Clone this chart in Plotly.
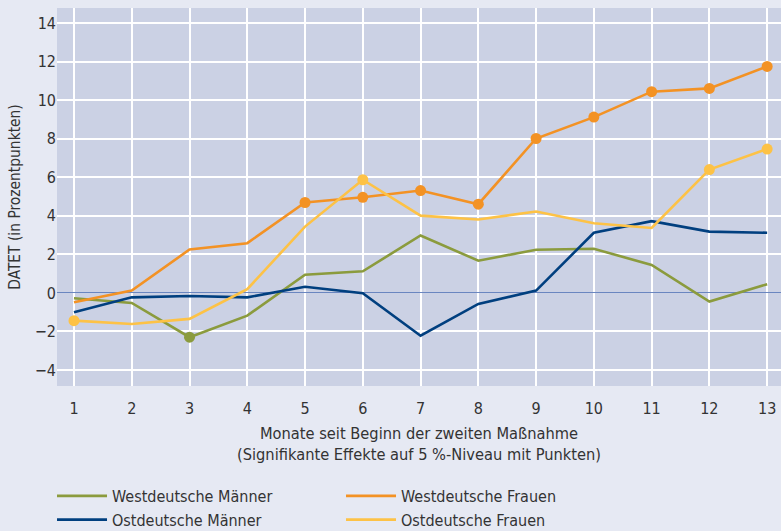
import plotly.graph_objects as go

months = list(range(1, 14))
west_maenner = [-0.28, -0.52, -2.3, -1.18, 0.94, 1.12, 2.98, 1.67, 2.24, 2.29, 1.45, -0.45, 0.45]
ost_maenner = [-1.0, -0.23, -0.16, -0.23, 0.32, -0.02, -2.22, -0.57, 0.12, 3.12, 3.72, 3.18, 3.12]
west_frauen = [-0.49, 0.12, 2.25, 2.58, 4.69, 4.96, 5.31, 4.6, 8.01, 9.12, 10.44, 10.61, 11.75]
ost_frauen = [-1.44, -1.61, -1.35, 0.19, 3.44, 5.87, 4.01, 3.81, 4.22, 3.61, 3.37, 6.4, 7.46]

# significance flags (dots shown)
sig_wm = [0, 0, 1, 0, 0, 0, 0, 0, 0, 0, 0, 0, 0]
sig_om = [0] * 13
sig_wf = [0, 0, 0, 0, 1, 1, 1, 1, 1, 1, 1, 1, 1]
sig_of = [1, 0, 0, 0, 0, 1, 0, 0, 0, 0, 0, 1, 1]

y_ticks = [-4, -2, 0, 2, 4, 6, 8, 10, 12, 14]

series = [
    ("Westdeutsche Männer", west_maenner, sig_wm, "#8b9b3d"),
    ("Westdeutsche Frauen", west_frauen, sig_wf, "#f39224"),
    ("Ostdeutsche Männer", ost_maenner, sig_om, "#003f7f"),
    ("Ostdeutsche Frauen", ost_frauen, sig_of, "#fdc246"),
]

FONT = "DejaVu Sans Condensed, Roboto Condensed, Open Sans, sans-serif"
fig = go.Figure()

for name, vals, sig, col in series:
    fig.add_trace(go.Scatter(
        x=months, y=vals, mode="lines", name=name,
        line=dict(color=col, width=2.6), showlegend=True,
    ))
    xs = [m for m, s in zip(months, sig) if s]
    ys = [v for v, s in zip(vals, sig) if s]
    if xs:
        fig.add_trace(go.Scatter(
            x=xs, y=ys, mode="markers", showlegend=False,
            marker=dict(color=col, size=11), hoverinfo="skip",
        ))

fig.update_layout(
    width=781, height=531,
    margin=dict(l=57, r=0, t=8, b=145),
    paper_bgcolor="#e6e9f3",
    plot_bgcolor="#cbd1e4",
    font=dict(family=FONT, size=16, color="#333333"),
    xaxis=dict(
        range=[0.706, 13.24], tickvals=months, showgrid=True,
        gridcolor="#ffffff", gridwidth=1.5, zeroline=False,
        ticks="", tickfont=dict(size=16), ticklabelstandoff=11,
        automargin=False,
        title=dict(text="Monate seit Beginn der zweiten Maßnahme<br>(Signifikante Effekte auf 5 %-Niveau mit Punkten)",
                   font=dict(size=16.3), standoff=10),
    ),
    yaxis=dict(
        range=[-4.83, 14.78], tickvals=y_ticks, showgrid=True,
        gridcolor="#ffffff", gridwidth=1.5,
        zeroline=True, zerolinecolor="#6a86c0", zerolinewidth=1,
        ticks="", tickfont=dict(size=16), automargin=False,
        title=dict(text="DATET (in Prozentpunkten)", font=dict(size=15.4), standoff=10),
    ),
    legend=dict(
        orientation="h", xref="container", yref="container",
        x=0.0666, xanchor="left", y=0.098, yanchor="top",
        entrywidth=224, traceorder="normal", bgcolor="rgba(0,0,0,0)",
        font=dict(size=16), tracegroupgap=0, itemwidth=50,
    ),
)

fig.write_html(
    "out.html",
    config={"displayModeBar": False},
    post_script="document.body.style.margin='0';document.body.style.background='#e6e9f3';",
)
